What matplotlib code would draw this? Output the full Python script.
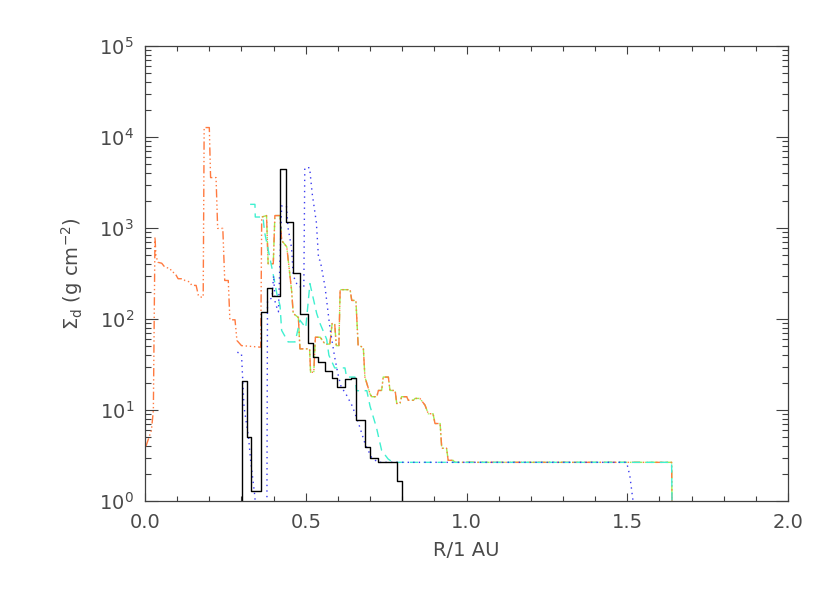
import numpy as np
import matplotlib
matplotlib.use('Agg')
import matplotlib.pyplot as plt
from matplotlib.ticker import MultipleLocator, LogLocator, FormatStrFormatter

# ── data (R in AU, surface density in g cm^-2) ───────────────────────────────
R_black = [0.290, 0.302, 0.317, 0.330, 0.361, 0.378, 0.395, 0.420, 0.439, 0.461,
           0.482, 0.506, 0.523, 0.538, 0.560, 0.582, 0.597, 0.622, 0.640, 0.656,
           0.684, 0.700, 0.725, 0.784, 0.799]
S_black = [0.5, 20.7, 5.1, 1.28, 118, 217, 178, 4400, 1160, 318,
           113, 54, 38, 34, 27, 22.4, 17.7, 21.7, 22.4, 7.7,
           3.9, 2.95, 2.66, 1.65, 0.5]

R_blue = [0.287, 0.300, 0.308, 0.322, 0.329, 0.342, 0.345, 0.379, 0.381, 0.395,
          0.400, 0.405, 0.415, 0.425, 0.440, 0.445, 0.456, 0.461, 0.475, 0.494,
          0.497, 0.512, 0.520, 0.533, 0.540, 0.545, 0.560, 0.575, 0.590, 0.600,
          0.610, 0.625, 0.645, 0.665, 0.685, 0.705, 0.725, 1.498, 1.508, 1.518, 1.520]
S_blue = [43, 42, 10.8, 5.0, 2.7, 1.1, 0.5, 0.5, 160, 170,
          300, 150, 120, 1750, 1750, 1000, 600, 300, 230, 220,
          4600, 4600, 2400, 1150, 450, 440, 225, 81, 38, 25,
          18, 15, 11, 7, 4.2, 3.0, 2.66, 2.66, 1.9, 1.0, 0.5]

R_cyan = [0.327, 0.342, 0.343, 0.367, 0.372, 0.398, 0.410, 0.420, 0.425, 0.445,
          0.467, 0.482, 0.500, 0.513, 0.534, 0.544, 0.565, 0.572, 0.590, 0.622,
          0.627, 0.653, 0.658, 0.690, 0.700, 0.720, 0.736, 0.756, 0.771, 1.638, 1.640]
S_cyan = [1820, 1820, 1320, 1320, 900, 320, 190, 140, 75, 56,
          56, 97, 80, 245, 115, 90, 60, 40, 29, 29,
          23, 23, 16.3, 16.3, 11, 6.4, 3.6, 2.9, 2.66, 2.66, 0.5]

R_orange = [0.003, 0.020, 0.026, 0.031, 0.034, 0.040, 0.052, 0.062, 0.078, 0.083,
            0.093, 0.103, 0.119, 0.124, 0.140, 0.145, 0.159, 0.166, 0.171, 0.181,
            0.184, 0.200, 0.204, 0.221, 0.226, 0.242, 0.248, 0.259, 0.264, 0.280,
            0.286, 0.300, 0.360,
            0.363, 0.378, 0.383, 0.399, 0.404, 0.420, 0.425, 0.441, 0.456, 0.461,
            0.477, 0.482, 0.512, 0.515, 0.525, 0.530, 0.545, 0.560, 0.575, 0.582,
            0.590, 0.595, 0.603, 0.607, 0.638, 0.643, 0.656, 0.663, 0.679, 0.684,
            0.700, 0.705, 0.721, 0.726, 0.736, 0.741, 0.757, 0.762, 0.778, 0.783,
            0.793, 0.798, 0.814, 0.819, 0.835, 0.840, 0.855, 0.871, 0.881, 0.896,
            0.902, 0.918, 0.923, 0.938, 0.943, 0.958, 0.964, 1.638, 1.640]
S_orange = [4.0, 6.0, 9.9, 800, 500, 420, 410, 370, 360, 330,
            320, 277, 277, 265, 255, 234, 234, 182, 174, 174,
            12700, 12700, 3580, 3580, 990, 990, 265, 265, 98, 98,
            58, 51, 49,
            1320, 1370, 405, 405, 1370, 1370, 730, 620, 205, 115,
            104, 47, 47, 26, 26, 63, 63, 53, 53, 89,
            89, 51, 51, 210, 210, 160, 160, 51, 49, 23,
            15, 14, 14, 16.4, 16.4, 23, 23, 16.4, 16.4, 11.8,
            11.8, 14, 14, 12.8, 12.8, 13.4, 13.4, 11.3, 9.1, 9.1,
            7.1, 7.1, 3.8, 3.8, 2.8, 2.8, 2.66, 2.66, 0.5]

# green run follows the orange one from R = 0.363 outwards
GREEN_START = R_orange.index(0.363)
R_green = R_orange[GREEN_START:]
S_green = S_orange[GREEN_START:]

TEXT_COL = '#4a4a4a'
plt.rcParams['font.family'] = ['DejaVu Sans']
plt.rcParams['mathtext.fontset'] = 'dejavusans'

fig = plt.figure(figsize=(8.30, 5.93), dpi=100)
ax = fig.add_axes([145 / 830, 1 - 501 / 593, (788 - 145) / 830, (501 - 46) / 593])

# green goes underneath so the orange dash-dot-dot stays visible on top
ax.plot(R_green, S_green, color='#9cf050', lw=1.0, dashes=(6, 2, 1, 2))
ax.plot(R_orange, S_orange, color='#ff7a40', lw=1.0, dashes=(6, 2, 1, 2, 1, 2, 1, 2))
ax.plot(R_cyan, S_cyan, color='#40f0d0', lw=1.0, dashes=(6, 4))
ax.plot(R_blue, S_blue, color='#3a3af0', lw=1.0, dashes=(1, 3))
ax.plot(R_black, S_black, color='black', lw=1.0, drawstyle='steps-post')

ax.set_yscale('log')
ax.set_xlim(0, 2)
ax.set_ylim(1, 1e5)

ax.xaxis.set_major_locator(MultipleLocator(0.5))
ax.xaxis.set_minor_locator(MultipleLocator(0.1))
ax.xaxis.set_major_formatter(FormatStrFormatter('%.1f'))
ax.yaxis.set_major_locator(LogLocator(base=10, numticks=10))
ax.yaxis.set_minor_locator(LogLocator(base=10, subs=np.arange(2, 10), numticks=10))

ax.tick_params(axis='both', which='both', direction='in', top=True, right=True,
               colors='#404040', labelcolor=TEXT_COL, labelsize=14, width=0.8)
ax.tick_params(axis='y', which='major', length=9, pad=8)
ax.tick_params(axis='y', which='minor', length=4.5)
ax.tick_params(axis='x', which='major', length=6, pad=9)
ax.tick_params(axis='x', which='minor', length=3.5)

for sp in ax.spines.values():
    sp.set_color('#404040')
    sp.set_linewidth(0.9)

ax.set_xlabel('R/1 AU', fontsize=14, color=TEXT_COL, labelpad=6)
ax.set_ylabel(r'$\Sigma_{\rm d}$ (g cm$^{-2}$)', fontsize=14, color=TEXT_COL, labelpad=10)

fig.savefig('out.png', dpi=100)
